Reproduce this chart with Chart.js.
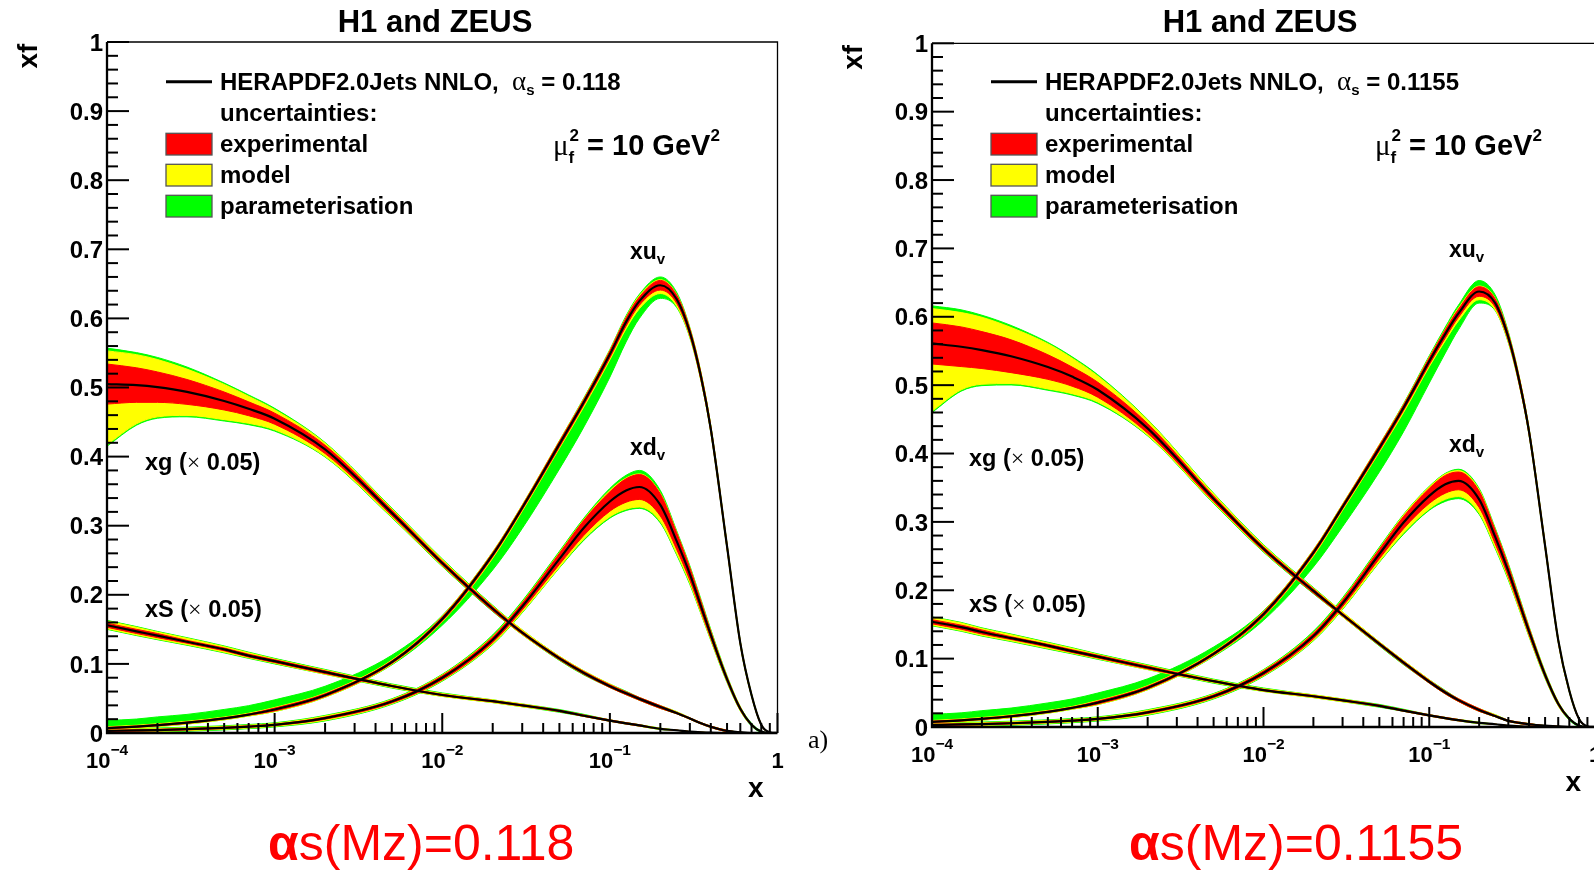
<!DOCTYPE html>
<html>
<head>
<meta charset="utf-8">
<script src="https://cdn.jsdelivr.net/npm/chart.js@4.4.1/dist/chart.umd.min.js"></script>
<style>
  html, body { margin: 0; padding: 0; background: #fff; overflow: hidden; width: 1594px; height: 870px; }
  canvas { position: absolute; top: 0; }
  #panelA { left: 0; }
  #panelB { left: 800px; }
</style>
</head>
<body>
<canvas id="panelA" width="850" height="870"></canvas>
<canvas id="panelB" width="830" height="870"></canvas>
<script>
// x values shared by every curve (log scale, 1e-4 .. 1)
const xGrid = [1e-4, 1.5e-4, 2e-4, 3e-4, 5e-4, 7e-4, 1e-3, 2e-3, 5e-3, 1e-2, 2e-2, 3e-2, 5e-2, 7e-2,
               0.1, 0.125, 0.15, 0.2, 0.25, 0.3, 0.35, 0.4, 0.5, 0.6, 0.7, 0.8, 0.9, 1.0];

// tick labels
const yTicks = [0, 0.1, 0.2, 0.3, 0.4, 0.5, 0.6, 0.7, 0.8, 0.9, 1];
const xTickPowers = [-4, -3, -2, -1, 0];

// ---------- panel A : alpha_s = 0.118 ----------
const xuvA    = [.007,.0092,.0113,.0149,.0211,.0266,.034,.0547,.1025,.165,.258,.326,.418,.479,.548,.595,.625,.648,.628,.58,.515,.44,.27,.13,.055,.012,.001,0];
const xuvAPar = [.011,.011,.012,.012,.013,.013,.014,.013,.01,.005,.004,.004,.005,.006,.007,.009,.01,.012,.01,.007,.006,.005,.004,.003,.002,.001,0,0];
const xuvAParDn = [.002,.002,.002,.002,.002,.002,.003,.003,.004,.009,.022,.03,.036,.036,.033,.029,.025,.019,.012,.008,.006,.005,.004,.003,.002,.001,0,0];

const xdvA    = [.003,.0037,.0043,.0055,.0075,.0093,.0118,.0215,.0455,.08,.135,.183,.252,.297,.335,.351,.356,.33,.278,.23,.183,.142,.078,.035,.012,.002,0,0];
const xdvAExp = [.001,.001,.001,.001,.001,.001,.001,.0015,.002,.003,.004,.005,.008,.011,.014,.017,.018,.016,.012,.009,.007,.005,.003,.002,.001,0,0,0];
const xdvAModUp = [.002,.002,.002,.002,.002,.002,.002,.003,.003,.004,.005,.006,.009,.012,.016,.018,.019,.017,.013,.01,.008,.006,.004,.003,.001,0,0,0];
const xdvAModDn = [.002,.002,.002,.002,.002,.002,.002,.003,.003,.004,.006,.008,.012,.016,.022,.027,.029,.024,.018,.013,.01,.007,.004,.003,.001,0,0,0];
const xdvAParUp = [.003,.003,.003,.003,.003,.003,.003,.004,.004,.005,.007,.008,.011,.014,.019,.022,.024,.021,.015,.012,.01,.008,.005,.003,.002,.001,0,0];
const xdvAParDn = [.003,.003,.003,.003,.003,.003,.003,.004,.004,.005,.007,.009,.013,.018,.024,.029,.031,.026,.02,.015,.011,.008,.005,.003,.002,.001,0,0];

const xgA      = [.505,.5035,.5005,.4936,.4805,.4692,.4549,.4104,.3186,.246,.1798,.1452,.108,.0869,.0678,.0574,.0494,.0376,.0289,.021,.014,.009,.003,.001,0,0,0,0];
const xgAExp   = [.029,.025,.022,.018,.013,.01,.008,.006,.004,.003,.003,.002,.002,.002,.002,.002,.002,.002,.001,.001,.001,.001,.001,0,0,0,0,0];
const xgAModUp = [.048,.044,.04,.033,.024,.018,.013,.009,.006,.005,.004,.004,.003,.003,.003,.002,.002,.002,.002,.001,.001,.001,.001,0,0,0,0,0];
const xgAModDn = [.088,.056,.043,.034,.027,.021,.016,.01,.006,.004,.003,.003,.002,.002,.002,.002,.002,.002,.001,.001,.001,.001,.001,0,0,0,0,0];
const xgAParUp = [.052,.047,.043,.036,.026,.02,.015,.01,.007,.006,.005,.004,.003,.003,.003,.003,.002,.002,.002,.001,.001,.001,.001,0,0,0,0,0];
const xgAParDn = [.09,.058,.045,.036,.029,.023,.018,.011,.007,.005,.004,.003,.003,.003,.002,.002,.002,.002,.001,.001,.001,.001,.001,0,0,0,0,0];

const xSA = [.156,.147,.141,.132,.121,.112,.104,.088,.068,.055,.046,.04,.032,.025,.018,.014,.011,.006,.004,.002,.001,.0005,0,0,0,0,0,0];

// ---------- panel B : alpha_s = 0.1155 ----------
const xuvB    = [.0075,.0097,.0119,.0157,.0222,.028,.0357,.0575,.107,.165,.255,.322,.408,.467,.535,.575,.605,.637,.62,.57,.505,.432,.265,.127,.053,.012,.001,0];
const xuvBPar = [.011,.011,.012,.012,.013,.013,.014,.013,.01,.005,.004,.004,.005,.006,.008,.01,.012,.016,.012,.008,.006,.005,.004,.003,.002,.001,0,0];
const xuvBParDn = [.002,.002,.002,.002,.002,.002,.003,.003,.004,.009,.021,.029,.035,.035,.032,.028,.024,.017,.011,.008,.006,.005,.004,.003,.002,.001,0,0];

const xdvB    = [.003,.0037,.0043,.0055,.0075,.0093,.0118,.0213,.045,.079,.133,.181,.253,.299,.338,.355,.36,.333,.278,.228,.181,.14,.076,.034,.012,.002,0,0];
const xdvBExp = [.001,.001,.001,.001,.001,.001,.001,.0015,.002,.003,.004,.005,.007,.009,.011,.013,.013,.012,.01,.008,.006,.005,.003,.002,.001,0,0,0];
const xdvBModUp = [.002,.002,.002,.002,.002,.002,.002,.003,.003,.004,.005,.006,.008,.011,.013,.015,.015,.014,.011,.009,.007,.006,.004,.003,.001,0,0,0];
const xdvBModDn = [.002,.002,.002,.002,.002,.002,.002,.003,.003,.004,.006,.008,.011,.015,.019,.022,.023,.02,.015,.011,.009,.007,.004,.003,.001,0,0,0];
const xdvBParUp = [.003,.003,.003,.003,.003,.003,.003,.004,.004,.005,.007,.008,.01,.012,.014,.016,.017,.016,.013,.011,.009,.007,.005,.003,.002,.001,0,0];
const xdvBParDn = [.003,.003,.003,.003,.003,.003,.003,.004,.004,.005,.007,.009,.012,.017,.021,.025,.026,.022,.017,.013,.01,.008,.005,.003,.002,.001,0,0];

const xgB      = [.561,.5562,.5513,.5423,.5265,.5125,.4933,.4368,.334,.2607,.199,.1642,.1215,.0941,.0662,.0504,.0393,.0249,.016,.009,.006,.004,.002,.001,0,0,0,0];
const xgBExp   = [.03,.029,.027,.024,.018,.014,.011,.007,.004,.003,.003,.002,.002,.002,.002,.002,.002,.002,.001,.001,.001,.001,0,0,0,0,0,0];
const xgBModUp = [.051,.05,.048,.042,.034,.027,.02,.012,.007,.005,.004,.004,.003,.003,.003,.002,.002,.002,.002,.001,.001,.001,0,0,0,0,0,0];
const xgBModDn = [.099,.063,.05,.04,.032,.025,.018,.01,.006,.004,.003,.003,.002,.002,.002,.002,.002,.002,.001,.001,.001,.001,0,0,0,0,0,0];
const xgBParUp = [.055,.054,.051,.045,.036,.029,.022,.013,.008,.006,.005,.004,.003,.003,.003,.003,.002,.002,.002,.001,.001,.001,0,0,0,0,0,0];
const xgBParDn = [.101,.065,.052,.042,.034,.027,.02,.011,.007,.005,.004,.003,.003,.003,.002,.002,.002,.002,.001,.001,.001,.001,0,0,0,0,0,0];

const xSB = [.154,.146,.139,.13,.119,.111,.103,.087,.067,.054,.045,.039,.031,.024,.017,.013,.01,.006,.004,.002,.001,.0005,0,0,0,0,0,0];

// uncertainties read the same in both panels
const xuvExp   = [.001,.001,.001,.001,.001,.001,.002,.002,.002,.003,.003,.003,.004,.004,.005,.006,.006,.007,.006,.005,.005,.004,.003,.002,.001,.001,0,0];
const xuvModUp = [.002,.002,.002,.002,.002,.002,.003,.003,.003,.004,.004,.004,.005,.005,.006,.007,.008,.008,.007,.006,.006,.005,.004,.003,.002,.001,0,0];
const xuvModDn = [.002,.002,.002,.002,.002,.002,.003,.003,.003,.004,.005,.005,.006,.007,.008,.01,.011,.012,.01,.007,.006,.005,.004,.003,.002,.001,0,0];
const xSExp   = [.003,.003,.003,.002,.002,.002,.002,.002,.001,.001,.001,.001,.001,.001,.001,.001,.001,0,0,0,0,0,0,0,0,0,0,0];
const xSModUp = [.006,.006,.005,.005,.004,.004,.003,.003,.002,.002,.002,.002,.001,.001,.001,.001,.001,.001,0,0,0,0,0,0,0,0,0,0];
const xSModDn = [.005,.005,.005,.004,.004,.003,.003,.003,.002,.002,.002,.002,.001,.001,.001,.001,.001,.001,0,0,0,0,0,0,0,0,0,0];
const xSParUp = [.007,.007,.006,.006,.005,.005,.004,.004,.003,.003,.002,.002,.002,.002,.001,.001,.001,.001,0,0,0,0,0,0,0,0,0,0];
const xSParDn = [.006,.006,.006,.005,.005,.004,.004,.003,.003,.002,.002,.002,.002,.001,.001,.001,.001,.001,0,0,0,0,0,0,0,0,0,0];

const BOLD = 'bold {s}px "Liberation Sans", Arial, sans-serif';
const SERIF = '{s}px "Liberation Serif", "Times New Roman", serif';
const fb = s => BOLD.replace('{s}', s);
const fs = s => SERIF.replace('{s}', s);

function toPoints(values) {
    return values.map((y, i) => ({ x: xGrid[i], y: y }));
}

// central line + three nested bands (green outside, yellow, red inside)
function curveDatasets(cen, exp, modUp, modDn, parUp, parDn) {
    const redHi = [], redLo = [], yelHi = [], yelLo = [], grnHi = [], grnLo = [];
    cen.forEach((v, i) => {
        const yU = Math.max(exp[i], modUp[i]), yD = Math.max(exp[i], modDn[i]);
        const gU = Math.max(yU, parUp[i]), gD = Math.max(yD, parDn[i]);
        redHi.push(v + exp[i]); redLo.push(Math.max(0, v - exp[i]));
        yelHi.push(v + yU);     yelLo.push(Math.max(0, v - yD));
        grnHi.push(v + gU);     grnLo.push(Math.max(0, v - gD));
    });
    const band = (data, color, order, fill) => ({
        data: toPoints(data), borderColor: color, backgroundColor: color,
        borderWidth: 1, fill: fill ? '+1' : false, order: order,
        pointRadius: 0, cubicInterpolationMode: 'monotone'
    });
    return [
        { data: toPoints(cen), borderColor: '#000', borderWidth: 2.2, fill: false, order: 0,
          pointRadius: 0, cubicInterpolationMode: 'monotone' },
        band(redHi, '#ff0000', 1, true), band(redLo, '#ff0000', 1, false),
        band(yelHi, '#ffff00', 2, true), band(yelLo, '#ffff00', 2, false),
        band(grnHi, '#00ff00', 3, true), band(grnLo, '#00ff00', 3, false)
    ];
}

// draws a run of text pieces [text, font, dy] one after the other
function drawRich(ctx, x, y, parts, align) {
    let total = 0;
    parts.forEach(p => { ctx.font = p[1]; total += ctx.measureText(p[0]).width; });
    let cx = x;
    if (align === 'center') cx = x - total / 2;
    if (align === 'right') cx = x - total;
    ctx.textAlign = 'left';
    ctx.textBaseline = 'alphabetic';
    parts.forEach(p => {
        ctx.font = p[1];
        ctx.fillText(p[0], cx, y + (p[2] || 0));
        cx += ctx.measureText(p[0]).width;
    });
    return cx;
}

// frame, ROOT style inner ticks, labels and legend
function framePlugin(panel) {
    return {
        id: 'rootFrame',
        afterDraw(chart) {
            const ctx = chart.ctx, a = chart.chartArea;
            const sx = chart.scales.x, sy = chart.scales.y;
            ctx.save();
            ctx.fillStyle = '#000';
            ctx.strokeStyle = '#000';

            // y ticks every 0.02, major every 0.1
            ctx.lineWidth = 2;
            for (let k = 0; k <= 50; k++) {
                const py = sy.getPixelForValue(k / 50);
                const len = k % 5 === 0 ? 22 : 11;
                ctx.beginPath(); ctx.moveTo(a.left, py); ctx.lineTo(a.left + len, py); ctx.stroke();
            }
            // x ticks: decades + 2..9
            xTickPowers.forEach(p => {
                const base = Math.pow(10, p);
                const px = sx.getPixelForValue(base);
                ctx.beginPath(); ctx.moveTo(px, a.bottom); ctx.lineTo(px, a.bottom - 20); ctx.stroke();
                if (p < 0) {
                    for (let m = 2; m <= 9; m++) {
                        const mx = sx.getPixelForValue(m * base);
                        ctx.beginPath(); ctx.moveTo(mx, a.bottom); ctx.lineTo(mx, a.bottom - 10); ctx.stroke();
                    }
                }
            });

            // frame
            ctx.lineWidth = 1.3;
            ctx.beginPath(); ctx.moveTo(a.left, a.top); ctx.lineTo(a.right, a.top); ctx.lineTo(a.right, a.bottom); ctx.stroke();
            ctx.lineWidth = 2.3;
            ctx.beginPath(); ctx.moveTo(a.left, a.top); ctx.lineTo(a.left, a.bottom); ctx.lineTo(a.right, a.bottom); ctx.stroke();

            // y labels
            ctx.font = fb(24);
            ctx.textAlign = 'right';
            ctx.textBaseline = 'middle';
            yTicks.forEach(v => ctx.fillText(String(v), a.left - 4, sy.getPixelForValue(v) + 2));

            // x labels 10^n
            xTickPowers.forEach(p => {
                const px = sx.getPixelForValue(Math.pow(10, p));
                if (p === 0) drawRich(ctx, px, a.bottom + 35, [['1', fb(22)]], 'center');
                else drawRich(ctx, px, a.bottom + 35, [['10', fb(22)], ['\u2212' + Math.abs(p), fb(15.5), -13]], 'center');
            });

            // axis titles
            drawRich(ctx, a.right - 14, a.bottom + 64, [['x', fb(28)]], 'right');
            ctx.save();
            ctx.translate(a.left - 78, a.top + 14);
            ctx.rotate(-Math.PI / 2);
            ctx.font = fb(28);
            ctx.textAlign = 'center';
            ctx.textBaseline = 'middle';
            ctx.fillText('xf', 0, 0);
            ctx.restore();

            // title
            drawRich(ctx, a.left + 328, 32, [['H1 and ZEUS', fb(31)]], 'center');

            // legend
            const lx = a.left + 59;
            ctx.lineWidth = 3;
            ctx.beginPath(); ctx.moveTo(lx, 81.7); ctx.lineTo(lx + 46, 81.7); ctx.stroke();
            drawRich(ctx, lx + 54, 90, [
                ['HERAPDF2.0Jets NNLO,  ', fb(24)], ['\u03b1', fs(27)], ['s', fb(15), 5],
                [' = ' + panel.alpha, fb(24)]
            ]);
            drawRich(ctx, lx + 54, 120.5, [['uncertainties:', fb(24)]]);
            const boxes = [['#ff0000', 'experimental', 133.3], ['#ffff00', 'model', 164.3], ['#00ff00', 'parameterisation', 195.3]];
            boxes.forEach(b => {
                ctx.fillStyle = b[0];
                ctx.fillRect(lx, b[2], 46, 21.7);
                ctx.strokeStyle = '#555';
                ctx.lineWidth = 1.3;
                ctx.strokeRect(lx, b[2], 46, 21.7);
                ctx.fillStyle = '#000';
                drawRich(ctx, lx + 54, b[2] + 19, [[b[1], fb(24)]]);
            });

            // mu_f^2 = 10 GeV^2
            const mx = a.left + panel.muX;
            let cx = drawRich(ctx, mx, 155, [['\u03bc', fs(29)]]);
            drawRich(ctx, cx, 155, [['f', fb(17), 8]]);
            cx = drawRich(ctx, cx + 1, 155, [['2', fb(17), -14]]);
            drawRich(ctx, cx, 155, [[' = 10 GeV', fb(29)], ['2', fb(17), -14]]);

            // curve labels
            drawRich(ctx, a.left + panel.xuX, panel.xuY, [['xu', fb(23)], ['v', fb(15), 5]]);
            drawRich(ctx, a.left + panel.xuX, panel.xdY, [['xd', fb(23)], ['v', fb(15), 5]]);
            drawRich(ctx, a.left + panel.labX, panel.xgY, [['xg (', fb(23.5)], ['\u00d7', fs(24)], [' 0.05)', fb(23.5)]]);
            drawRich(ctx, a.left + panel.labX, panel.xsY, [['xS (', fb(23.5)], ['\u00d7', fs(24)], [' 0.05)', fb(23.5)]]);

            // red caption below the frame
            ctx.fillStyle = '#ff0000';
            drawRich(ctx, panel.capX, 860, [['\u03b1', 'bold 50px "Liberation Sans", Arial, sans-serif'],
                ['s(Mz)=' + panel.alpha, '50px "Liberation Sans", Arial, sans-serif']]);

            if (panel.tag) {
                ctx.fillStyle = '#000';
                drawRich(ctx, 808, 748, [['a)', fs(26)]]);
            }
            ctx.restore();
        }
    };
}

function drawPanel(canvasId, panel, curves, padding) {
    const datasets = [];
    curves.forEach(c => datasets.push(...curveDatasets(...c)));
    return new Chart(document.getElementById(canvasId), {
        type: 'line',
        data: { datasets: datasets },
        options: {
            responsive: false,
            animation: false,
            events: [],
            layout: { padding: padding },
            plugins: { legend: { display: false }, tooltip: { enabled: false } },
            scales: {
                x: { type: 'logarithmic', min: 1e-4, max: 1, display: false },
                y: { type: 'linear', min: 0, max: 1, display: false }
            }
        },
        plugins: [framePlugin(panel)]
    });
}

document.addEventListener('DOMContentLoaded', () => {
    drawPanel('panelA',
        { alpha: '0.118', muX: 446, xuX: 523, xuY: 259, xdY: 455, labX: 38, xgY: 470, xsY: 617, capX: 268, tag: true },
        [
            [xgA, xgAExp, xgAModUp, xgAModDn, xgAParUp, xgAParDn],
            [xSA, xSExp, xSModUp, xSModDn, xSParUp, xSParDn],
            [xuvA, xuvExp, xuvModUp, xuvModDn, xuvAPar, xuvAParDn],
            [xdvA, xdvAExp, xdvAModUp, xdvAModDn, xdvAParUp, xdvAParDn]
        ],
        { left: 107, right: 72.5, top: 42, bottom: 137 });

    drawPanel('panelB',
        { alpha: '0.1155', muX: 443, xuX: 517, xuY: 257, xdY: 452, labX: 37, xgY: 466, xsY: 612, capX: 329, tag: false },
        [
            [xgB, xgBExp, xgBModUp, xgBModDn, xgBParUp, xgBParDn],
            [xSB, xSExp, xSModUp, xSModDn, xSParUp, xSParDn],
            [xuvB, xuvExp, xuvModUp, xuvModDn, xuvBPar, xuvBParDn],
            [xdvB, xdvBExp, xdvBModUp, xdvBModDn, xdvBParUp, xdvBParDn]
        ],
        { left: 132, right: 35, top: 43.3, bottom: 143 });
});
</script>
</body>
</html>
